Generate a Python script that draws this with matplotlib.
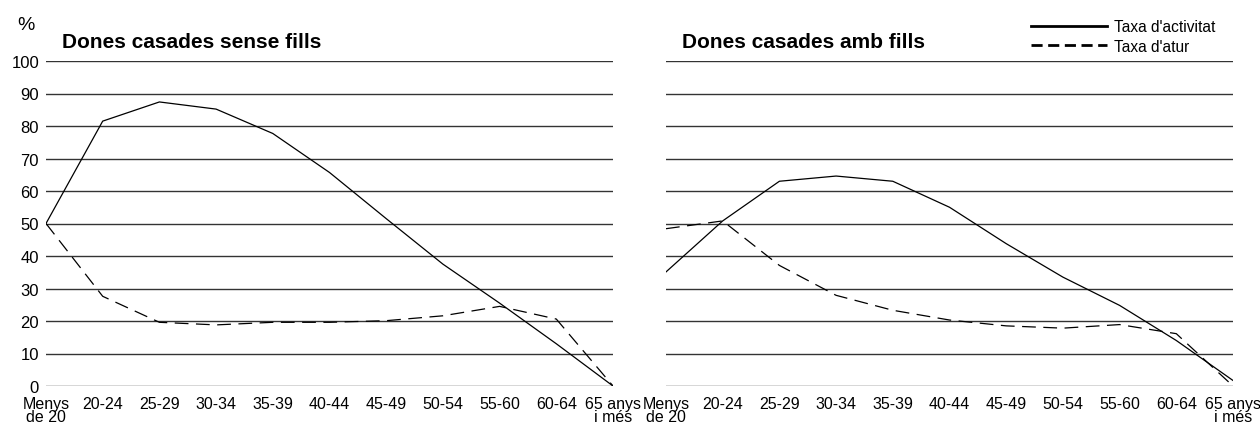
import matplotlib
matplotlib.use('Agg')
import matplotlib.pyplot as plt
from matplotlib.lines import Line2D

plt.rcParams['font.family'] = ['Liberation Sans', 'DejaVu Sans']

# Dades
grups_edat = ['Menys\nde 20', '20-24', '25-29', '30-34', '35-39', '40-44',
              '45-49', '50-54', '55-60', '60-64', '65 anys\ni més']

# Dones casades sense fills
sense_activitat = [50, 81.5, 87.4, 85.2, 77.7, 65.7, 51.5, 37.5, 25.5, 13, 0]
sense_atur = [50, 27.6, 19.6, 18.8, 19.6, 19.6, 20.1, 21.6, 24.5, 20.6, 0]

# Dones casades amb fills
amb_activitat = [35.1, 50.8, 63.0, 64.6, 63.0, 55.0, 43.8, 33.5, 24.8, 14.0, 1.7]
amb_atur = [48.4, 50.8, 37.1, 27.9, 23.3, 20.3, 18.5, 17.8, 18.9, 16.1, 0]

titols = ['Dones casades sense fills', 'Dones casades amb fills']

fig = plt.figure(figsize=(12.6, 4.27), dpi=100)
ax1 = fig.add_axes([46 / 1260, 1 - 387 / 427, 567 / 1260, 325 / 427])
ax2 = fig.add_axes([666 / 1260, 1 - 387 / 427, 567 / 1260, 325 / 427])

x = list(range(len(grups_edat)))

for ax, act, atur, titol in [(ax1, sense_activitat, sense_atur, titols[0]),
                             (ax2, amb_activitat, amb_atur, titols[1])]:
    for v in range(0, 101, 10):
        ax.axhline(v, color='#333333', linewidth=1.0, zorder=1)
    ax.plot(x, act, color='black', linewidth=0.9, zorder=3)
    ax.plot(x, atur, color='black', linewidth=0.9, linestyle=(0, (11, 6)), zorder=3)
    ax.set_xlim(0, len(x) - 1)
    ax.set_ylim(0, 100)
    ax.set_xticks(x)
    ax.set_xticklabels(grups_edat, fontsize=11.5, linespacing=0.88)
    for lab in ax.get_xticklabels():
        lab.set_multialignment('center')
    for s in ax.spines.values():
        s.set_visible(False)
    ax.tick_params(length=0)
    ax.tick_params(axis='x', pad=7)
    ax.text(16 / 567, 1 + 14 / 325, titol, transform=ax.transAxes,
            fontsize=15, fontweight='bold', ha='left', va='baseline')

ax1.set_yticks(range(0, 101, 10))
ax1.tick_params(axis='y', labelsize=12, pad=5)
ax2.set_yticks(range(0, 101, 10))
ax2.set_yticklabels([])

fig.text(17 / 1260, 1 - 25 / 427, '%', fontsize=14, ha='left', va='center')

handles = [Line2D([], [], color='black', linewidth=2),
           Line2D([], [], color='black', linewidth=2, linestyle=(0, (4, 2)))]
fig.legend(handles, ["Taxa d'activitat", "Taxa d'atur"],
           loc='upper left', bbox_to_anchor=(1031 / 1260, 1 - 20 / 427),
           frameon=False, fontsize=11.2, handlelength=4.9, handletextpad=0.45,
           labelspacing=0.3, borderpad=0, borderaxespad=0)

fig.savefig('out.png', dpi=100)
